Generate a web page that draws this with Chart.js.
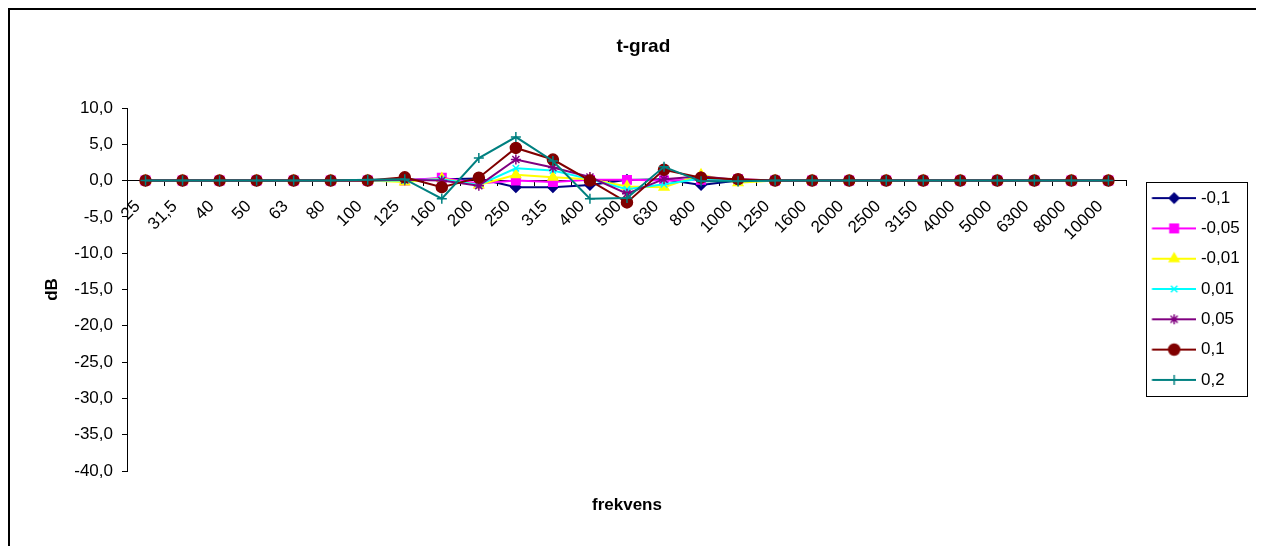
<!DOCTYPE html>
<html>
<head>
<meta charset="utf-8">
<title>t-grad</title>
<script src="https://cdn.jsdelivr.net/npm/chart.js@4.4.1/dist/chart.umd.min.js"></script>
<style>
  html, body { margin: 0; padding: 0; background: #fff; }
  #wrap { width: 1262px; height: 546px; position: relative; }
</style>
</head>
<body>
<div id="wrap"><canvas id="canvas"></canvas></div>
<script>
// third-octave bands, Hz
const frequencies = ['25', '31,5', '40', '50', '63', '80', '100', '125', '160', '200', '250', '315', '400', '500', '630', '800', '1000', '1250', '1600', '2000', '2500', '3150', '4000', '5000', '6300', '8000', '10000'];

// level change in dB for each temperature gradient
const gradM010 = [0, 0, 0, 0, 0, 0, 0, 0.1, 0.2, 0.3, -0.9, -0.9, -0.6, 0.1, 0.2, -0.6, 0.0, 0, 0, 0, 0, 0, 0, 0, 0, 0, 0];
const gradM005 = [0, 0, 0, 0, 0, 0, 0, 0.0, 0.4, -0.4, 0.0, -0.2, 0.1, 0.1, 0.0, 0.1, 0.2, 0, 0, 0, 0, 0, 0, 0, 0, 0, 0];
const gradM001 = [0, 0, 0, 0, 0, 0, 0, -0.2, 0.3, -0.6, 0.8, 0.45, 0.2, -0.8, -0.9, 0.8, -0.3, 0, 0, 0, 0, 0, 0, 0, 0, 0, 0];
const grad001 = [0, 0, 0, 0, 0, 0, 0, 0.0, 0.2, -0.6, 1.7, 1.4, 0.2, -1.2, -0.5, 0.3, -0.1, 0, 0, 0, 0, 0, 0, 0, 0, 0, 0];
const grad005 = [0, 0, 0, 0, 0, 0, 0, 0.1, 0.0, -0.7, 2.9, 1.8, 0.5, -1.8, 0.2, 0.6, 0.1, 0, 0, 0, 0, 0, 0, 0, 0, 0, 0];
const grad010 = [0, 0, 0, 0, 0, 0, 0.0, 0.45, -0.9, 0.4, 4.5, 2.9, 0.0, -3.0, 1.5, 0.4, 0.2, 0, 0, 0, 0, 0, 0, 0, 0, 0, 0];
const grad020 = [0, 0, 0, 0, 0, 0, 0.1, 0.2, -2.5, 3.1, 6.0, 2.7, -2.5, -2.4, 1.9, -0.1, -0.1, 0, 0, 0, 0, 0, 0, 0, 0, 0, 0];

const seriesNames = ['-0,1', '-0,05', '-0,01', '0,01', '0,05', '0,1', '0,2'];
const seriesValues = [gradM010, gradM005, gradM001, grad001, grad005, grad010, grad020];
const seriesColors = ['#000080', '#FF00FF', '#FFFF00', '#00FFFF', '#800080', '#800000', '#008080'];
const seriesMarkers = ['rectRot', 'rect', 'triangle', 'crossRot', 'star', 'circle', 'cross'];
const markerSizes = [5, 6, 5.5, 4.5, 5, 5.5, 5];

Chart.defaults.font.family = '"Liberation Sans", Arial, sans-serif';
Chart.defaults.color = '#000';

// little line + marker pictures for the legend
function legendSample(color, style, radius) {
  const c = document.createElement('canvas');
  c.width = 60;
  c.height = 16;
  const g = c.getContext('2d');
  g.strokeStyle = color;
  g.lineWidth = 2;
  g.beginPath();
  g.moveTo(15.6, 8);
  g.lineTo(60, 8);
  g.stroke();
  g.fillStyle = color;
  g.lineWidth = 1.5;
  Chart.helpers.drawPoint(g, {pointStyle: style, radius: radius, rotation: 0, borderWidth: 1.5}, 37.8, 8);
  return c;
}
const samples = seriesColors.map((c, i) => legendSample(c, seriesMarkers[i], markerSizes[i]));

const datasets = seriesNames.map((name, i) => ({
  label: name,
  data: seriesValues[i],
  borderColor: seriesColors[i],
  backgroundColor: seriesColors[i],
  borderWidth: 2,
  pointStyle: seriesMarkers[i],
  pointRadius: markerSizes[i],
  pointBackgroundColor: seriesColors[i],
  pointBorderColor: seriesColors[i],
  pointBorderWidth: 1.5,
  tension: 0,
  // later series are painted on top
  order: 6 - i
}));

const framePlugin = {
  id: 'frame',
  beforeDraw(chart) {
    const ctx = chart.ctx;
    ctx.save();
    ctx.fillStyle = '#fff';
    ctx.fillRect(0, 0, chart.width, chart.height);
    ctx.strokeStyle = '#000';
    ctx.lineWidth = 2;
    ctx.beginPath();
    ctx.moveTo(9, chart.height);
    ctx.lineTo(9, 9);
    ctx.lineTo(1256, 9);
    ctx.stroke();
    ctx.restore();
  },
  afterDraw(chart) {
    // box round the legend
    const lg = chart.legend;
    if (!lg || !lg.legendHitBoxes || !lg.legendHitBoxes.length) return;
    const hb = lg.legendHitBoxes;
    const last = hb[hb.length - 1];
    const ctx = chart.ctx;
    ctx.save();
    ctx.strokeStyle = '#000';
    ctx.lineWidth = 1;
    const x0 = Math.round(lg.left + 19) + 0.5;
    const x1 = Math.round(lg.left + 120) + 0.5;
    const y0 = Math.round(hb[0].top - 8) + 0.5;
    const y1 = Math.round(last.top + last.height + 8) + 0.5;
    ctx.strokeRect(x0, y0, x1 - x0, y1 - y0);
    ctx.restore();
  }
};

window.onload = () => {
  const ctx = document.getElementById('canvas').getContext('2d');
  window.tgrad = new Chart(ctx, {
    type: 'line',
    data: {labels: frequencies, datasets: datasets},
    plugins: [framePlugin],
    options: {
      responsive: true,
      maintainAspectRatio: false,
      animation: false,
      layout: {padding: {left: 37, right: 12.3, top: 20, bottom: 10}},
      plugins: {
        title: {
          display: true,
          text: 't-grad',
          color: '#000',
          font: {size: 19, weight: 'bold'},
          padding: {top: 15.6, bottom: 49.6}
        },
        subtitle: {
          display: true,
          text: 'frekvens',
          position: 'bottom',
          fullSize: false,
          color: '#000',
          font: {size: 17, weight: 'bold'},
          padding: {top: 23.8, bottom: 20.8}
        },
        legend: {
          display: true,
          position: 'right',
          // empty title only nudges the entries down a little
          title: {display: true, text: '', font: {size: 10}, padding: 5},
          labels: {
            usePointStyle: true,
            pointStyleWidth: 52.2,
            padding: 13.3,
            color: '#000',
            font: {size: 17},
            generateLabels(chart) {
              const items = Chart.defaults.plugins.legend.labels.generateLabels(chart);
              items.sort((a, b) => a.datasetIndex - b.datasetIndex);
              items.forEach(it => { it.pointStyle = samples[it.datasetIndex]; });
              return items;
            }
          }
        },
        tooltip: {enabled: false}
      },
      scales: {
        x: {
          type: 'category',
          offset: true,
          position: {y: 0},
          grid: {display: true, drawOnChartArea: false, drawTicks: true, tickLength: 5, offset: true, color: '#000'},
          border: {display: true, color: '#000', width: 1},
          ticks: {autoSkip: false, maxRotation: 45, minRotation: 45, padding: 11, labelOffset: -8, font: {size: 17}, color: '#000'}
        },
        y: {
          position: 'left',
          min: -40,
          max: 10,
          afterFit(scale) { scale.width = 90; },
          grid: {display: true, drawOnChartArea: false, drawTicks: true, tickLength: 5, color: '#000'},
          border: {display: true, color: '#000', width: 1},
          ticks: {
            stepSize: 5,
            padding: 9,
            font: {size: 17},
            color: '#000',
            callback: v => v.toFixed(1).replace('.', ',')
          },
          title: {display: true, text: 'dB', color: '#000', font: {size: 17, weight: 'bold'}, padding: {top: 5.3, bottom: 0}}
        }
      }
    }
  });
};
</script>
</body>
</html>
